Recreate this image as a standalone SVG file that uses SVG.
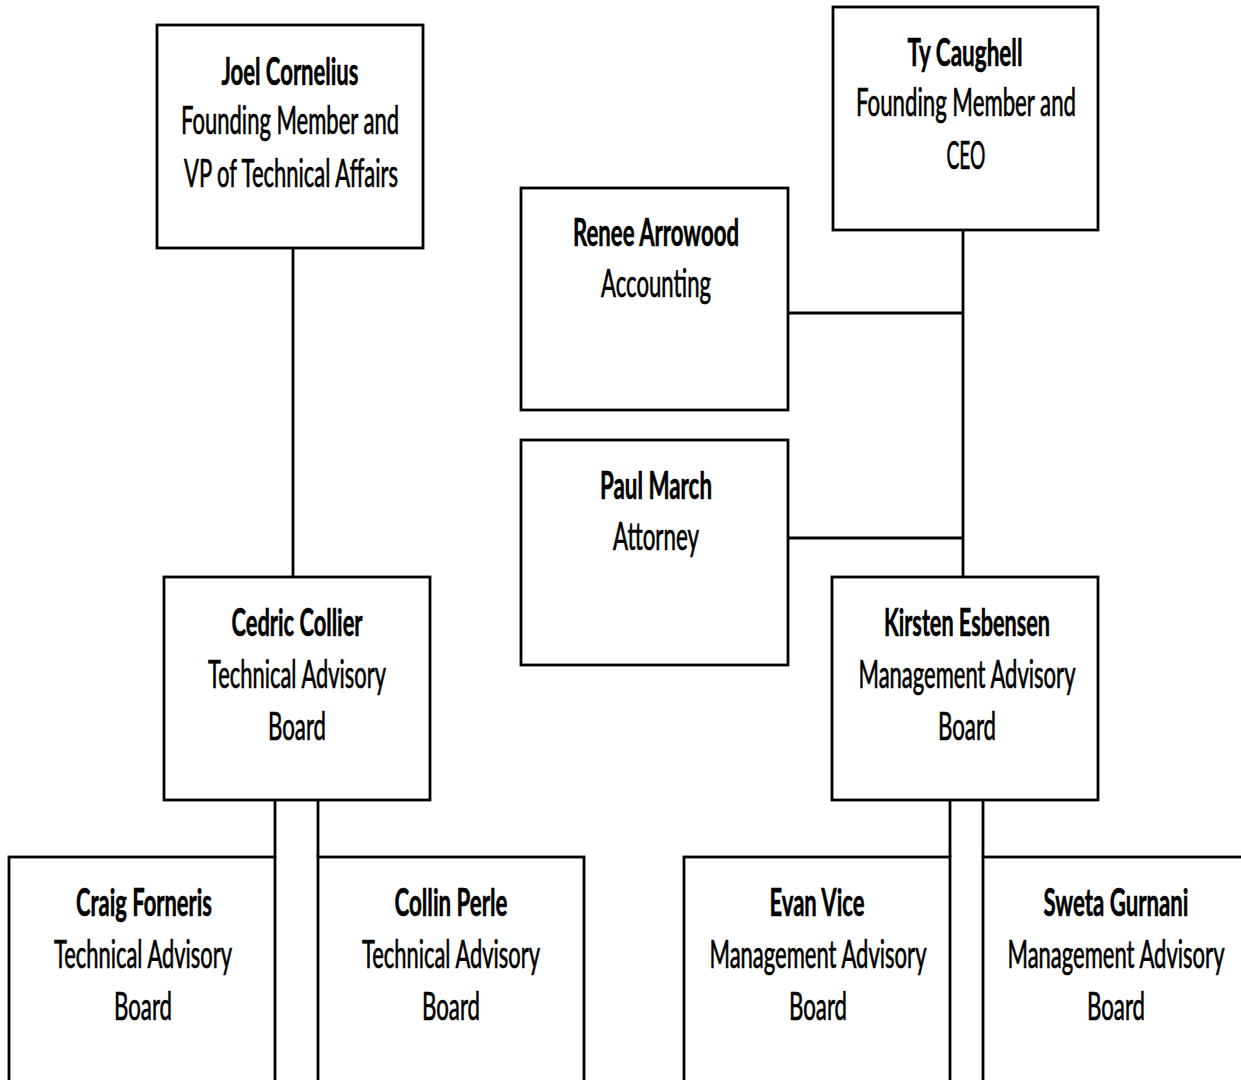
<svg xmlns="http://www.w3.org/2000/svg" width="1241" height="1080" viewBox="0 0 1241 1080">
<style>
.box{fill:#fff;stroke:#000;stroke-width:2.8}
.ln{stroke:#000;stroke-width:2.8;fill:none}
text{font-family:Lato,"Liberation Sans",sans-serif;font-size:38px;fill:#000;text-anchor:middle;stroke:#000;stroke-width:0.7}
.b{font-weight:bold;stroke-width:0.6}
</style>
<rect width="1241" height="1080" fill="#fff"/>
<g id="connectors">
<line class="ln" x1="293" y1="248" x2="293" y2="577"/>
<line class="ln" x1="963" y1="230" x2="963" y2="577"/>
<line class="ln" x1="788" y1="313" x2="963" y2="313"/>
<line class="ln" x1="788" y1="538" x2="963" y2="538"/>
<line class="ln" x1="275" y1="800" x2="275" y2="857"/>
<line class="ln" x1="318" y1="800" x2="318" y2="857"/>
<line class="ln" x1="950" y1="800" x2="950" y2="857"/>
<line class="ln" x1="983" y1="800" x2="983" y2="857"/>
</g>
<g id="joel">
<rect class="box" x="157" y="25" width="266" height="223"/>
<text class="b" x="290" y="85" textLength="137" lengthAdjust="spacingAndGlyphs">Joel Cornelius</text>
<text x="290" y="134" textLength="218" lengthAdjust="spacingAndGlyphs">Founding Member and</text>
<text x="291" y="187" textLength="214" lengthAdjust="spacingAndGlyphs">VP of Technical Affairs</text>
</g>
<g id="ty">
<rect class="box" x="833" y="7" width="265" height="223"/>
<text class="b" x="965" y="66" textLength="115" lengthAdjust="spacingAndGlyphs">Ty Caughell</text>
<text x="966" y="116" textLength="220" lengthAdjust="spacingAndGlyphs">Founding Member and</text>
<text x="966" y="169" textLength="39" lengthAdjust="spacingAndGlyphs">CEO</text>
</g>
<g id="renee">
<rect class="box" x="521" y="188" width="267" height="222"/>
<text class="b" x="656" y="246" textLength="166" lengthAdjust="spacingAndGlyphs">Renee Arrowood</text>
<text x="656" y="297" textLength="110" lengthAdjust="spacingAndGlyphs">Accounting</text>
</g>
<g id="paul">
<rect class="box" x="521" y="440" width="267" height="225"/>
<text class="b" x="656" y="499" textLength="112" lengthAdjust="spacingAndGlyphs">Paul March</text>
<text x="656" y="550" textLength="86" lengthAdjust="spacingAndGlyphs">Attorney</text>
</g>
<g id="cedric">
<rect class="box" x="164" y="577" width="266" height="223"/>
<text class="b" x="297" y="636" textLength="131" lengthAdjust="spacingAndGlyphs">Cedric Collier</text>
<text x="297" y="688" textLength="178" lengthAdjust="spacingAndGlyphs">Technical Advisory</text>
<text x="297" y="740" textLength="58" lengthAdjust="spacingAndGlyphs">Board</text>
</g>
<g id="kirsten">
<rect class="box" x="832" y="577" width="266" height="223"/>
<text class="b" x="967" y="636" textLength="166" lengthAdjust="spacingAndGlyphs">Kirsten Esbensen</text>
<text x="967" y="688" textLength="217" lengthAdjust="spacingAndGlyphs">Management Advisory</text>
<text x="967" y="740" textLength="58" lengthAdjust="spacingAndGlyphs">Board</text>
</g>
<g id="craig">
<rect class="box" x="9" y="857" width="266" height="226"/>
<text class="b" x="144" y="916" textLength="136" lengthAdjust="spacingAndGlyphs">Craig Forneris</text>
<text x="143" y="968" textLength="178" lengthAdjust="spacingAndGlyphs">Technical Advisory</text>
<text x="143" y="1020" textLength="58" lengthAdjust="spacingAndGlyphs">Board</text>
</g>
<g id="collin">
<rect class="box" x="318" y="857" width="266" height="226"/>
<text class="b" x="451" y="916" textLength="113" lengthAdjust="spacingAndGlyphs">Collin Perle</text>
<text x="451" y="968" textLength="178" lengthAdjust="spacingAndGlyphs">Technical Advisory</text>
<text x="451" y="1020" textLength="58" lengthAdjust="spacingAndGlyphs">Board</text>
</g>
<g id="evan">
<rect class="box" x="684" y="857" width="266" height="226"/>
<text class="b" x="817" y="916" textLength="95" lengthAdjust="spacingAndGlyphs">Evan Vice</text>
<text x="818" y="968" textLength="217" lengthAdjust="spacingAndGlyphs">Management Advisory</text>
<text x="818" y="1020" textLength="58" lengthAdjust="spacingAndGlyphs">Board</text>
</g>
<g id="sweta">
<rect class="box" x="983" y="857" width="266" height="226"/>
<text class="b" x="1116" y="916" textLength="145" lengthAdjust="spacingAndGlyphs">Sweta Gurnani</text>
<text x="1116" y="968" textLength="217" lengthAdjust="spacingAndGlyphs">Management Advisory</text>
<text x="1116" y="1020" textLength="58" lengthAdjust="spacingAndGlyphs">Board</text>
</g>
</svg>
